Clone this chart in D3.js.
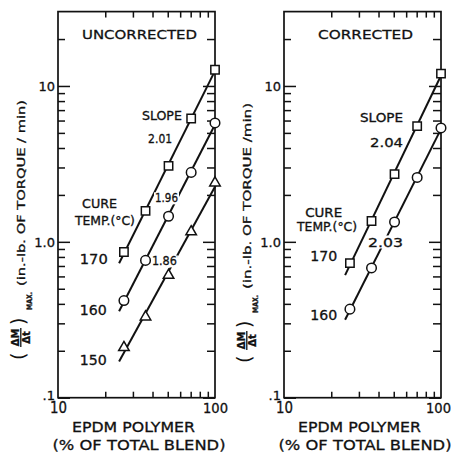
<!DOCTYPE html>
<html>
<head>
<meta charset="utf-8">
<script src="https://cdn.jsdelivr.net/npm/d3@7"></script>
<style>
  body { margin: 0; background: #fff; }
  svg text { font-family: "DejaVu Sans", sans-serif; fill: #111; stroke: #111; stroke-width: 0.3; }
</style>
</head>
<body>
<div id="chart"></div>
<script>
(function() {
  // EPDM polymer, % of total blend (x)
  var blendPct = [26.3, 36.1, 50.6, 70.5, 100];

  // (dM/dt) max, in.-lb. of torque / min
  var uncorrected170 = [0.86, 1.58, 3.07, 6.18, 12.7];
  var uncorrected160 = [0.42, 0.76, 1.46, 2.79, 5.79];
  var uncorrected150 = [0.21, 0.33, 0.61, 1.16, 2.39];
  var corrected170 = [0.73, 1.36, 2.72, 5.52, 12.0];
  var corrected160 = [0.37, 0.68, 1.34, 2.59, 5.38];

  var uncorrectedSlopes = ["2.01", "1.96", "1.86"];
  var correctedSlopes = ["2.04", "2.03"];
  var cureTemps = ["170", "160", "150"];

  var yTickValues = [0.1, 1, 10];
  var yTickLabels = [".1", "1.0", "10"];
  var xTickValues = [10, 100];
  var xTickLabels = ["10", "100"];

  var W = 453, H = 453;
  var svg = d3.select("#chart").append("svg")
    .attr("width", W)
    .attr("height", H);

  var yScale = d3.scaleLog().domain([0.1, 30]).range([397.7, 11.6]);
  var panelW = 157;
  var fitRange = [24.5, 102];

  // log-log least squares fit
  function fit(xs, ys) {
    var lx = xs.map(Math.log10), ly = ys.map(Math.log10);
    var mx = d3.mean(lx), my = d3.mean(ly);
    var sxy = d3.sum(lx, function(d, i) { return (d - mx) * (ly[i] - my); });
    var sxx = d3.sum(lx, function(d) { return (d - mx) * (d - mx); });
    var b = sxy / sxx;
    return function(x) { return Math.pow(10, my + b * (Math.log10(x) - mx)); };
  }

  var panels = [
    {
      left: 58, title: "UNCORRECTED", titleLen: 115, titleX: 139.5, axisText: "(in.-lb. OF TORQUE / min)", labelShift: 0,
      series: [
        { values: uncorrected170, symbol: d3.symbolSquare, size: 70 },
        { values: uncorrected160, symbol: d3.symbolCircle, size: 72 },
        { values: uncorrected150, symbol: d3.symbolTriangle, size: 48 }
      ],
      notes: [
        { text: "SLOPE", x: 45.9, y: 6.39, size: 11.5, len: 40 },
        { text: uncorrectedSlopes[0], x: 44.7, y: 4.62, size: 12, len: 24 },
        { text: uncorrectedSlopes[1], x: 49.1, y: 1.91, size: 12, len: 23, knock: true },
        { text: uncorrectedSlopes[2], x: 47.6, y: 0.752, size: 12, len: 25, knock: true },
        { text: "CURE", x: 18.4, y: 1.74, size: 11.5, len: 35 },
        { text: "TEMP.(°C)", x: 19.9, y: 1.36, size: 11.5, len: 60 },
        { text: cureTemps[0], x: 16.9, y: 0.775, size: 14, len: 28 },
        { text: cureTemps[1], x: 16.8, y: 0.365, size: 14, len: 27 },
        { text: cureTemps[2], x: 16.8, y: 0.175, size: 14, len: 27 }
      ]
    },
    {
      left: 284, title: "CORRECTED", titleLen: 95, titleX: 365.5, axisText: "(in.-lb. OF TORQUE /min)", labelShift: 3,
      series: [
        { values: corrected170, symbol: d3.symbolSquare, size: 70 },
        { values: corrected160, symbol: d3.symbolCircle, size: 72 }
      ],
      notes: [
        { text: "SLOPE", x: 41.8, y: 6.21, size: 11.5, len: 43 },
        { text: correctedSlopes[0], x: 45.0, y: 4.36, size: 13, len: 33 },
        { text: correctedSlopes[1], x: 44.3, y: 1.0, size: 13, len: 35, knock: true },
        { text: "CURE", x: 17.9, y: 1.53, size: 11.5, len: 37 },
        { text: "TEMP.(°C)", x: 18.8, y: 1.24, size: 11.5, len: 60 },
        { text: cureTemps[0], x: 17.9, y: 0.81, size: 14, len: 27 },
        { text: cureTemps[1], x: 17.9, y: 0.339, size: 14, len: 27 }
      ]
    }
  ];

  panels.forEach(function(p) {
    var xScale = d3.scaleLog().domain([10, 100]).range([p.left, p.left + panelW]);
    var g = svg.append("g");
    var y0 = yScale.range()[0], y1 = yScale.range()[1];

    // frame
    g.append("rect")
      .attr("x", p.left).attr("y", y1)
      .attr("width", panelW).attr("height", y0 - y1)
      .attr("fill", "none").attr("stroke", "#111").attr("stroke-width", 1.7);

    var yMinor = [0.2, 0.3, 0.4, 0.5, 0.6, 0.7, 0.8, 0.9, 2, 3, 4, 5, 6, 7, 8, 9, 20];
    var xMinor = [20, 30, 40, 50, 60, 70, 80, 90];

    function styleAxis(sel) {
      sel.select(".domain").remove();
      sel.selectAll("line").attr("stroke", "#111").attr("stroke-width", 1.5);
      sel.selectAll("text").attr("font-family", null).attr("fill", "#111");
    }

    // left axis, majors with labels
    var yAx = g.append("g")
      .attr("class", "axis y-axis")
      .attr("transform", "translate(" + p.left + ",0)")
      .call(d3.axisLeft(yScale).tickValues(yTickValues).tickSize(-12).tickPadding(3)
        .tickFormat(function(d, i) { return yTickLabels[i]; }))
      .call(styleAxis)
      .attr("font-size", 13);
    yAx.selectAll("text").attr("dy", function(d) { return d === 0.1 ? "0.1em" : "0.32em"; });
    g.append("g")
      .attr("transform", "translate(" + p.left + ",0)")
      .call(d3.axisLeft(yScale).tickValues(yMinor).tickSize(-7).tickFormat(""))
      .call(styleAxis);

    // right axis
    g.append("g")
      .attr("transform", "translate(" + (p.left + panelW) + ",0)")
      .call(d3.axisRight(yScale).tickValues(yTickValues).tickSize(-12).tickFormat(""))
      .call(styleAxis);
    g.append("g")
      .attr("transform", "translate(" + (p.left + panelW) + ",0)")
      .call(d3.axisRight(yScale).tickValues(yMinor).tickSize(-8).tickFormat(""))
      .call(styleAxis);

    // bottom axis
    var xAx = g.append("g")
      .attr("class", "axis x-axis")
      .attr("transform", "translate(0," + y0 + ")")
      .call(d3.axisBottom(xScale).tickValues(xTickValues).tickSize(0).tickPadding(5)
        .tickFormat(function(d, i) { return xTickLabels[i]; }))
      .call(styleAxis)
      .attr("font-size", 15);
    xAx.selectAll("text")
      .attr("font-size", function(d) { return d === 100 ? 14 : 15; })
      .attr("textLength", function(d) { return d === 100 ? 25 : 17; })
      .attr("lengthAdjust", "spacingAndGlyphs")
      .attr("dx", function(d) { return d === 100 && p.left > 200 ? -3 : 0; });
    g.append("g")
      .attr("transform", "translate(0," + y0 + ")")
      .call(d3.axisBottom(xScale).tickValues(xMinor).tickSize(-6).tickFormat(""))
      .call(styleAxis);

    // top axis
    g.append("g")
      .attr("transform", "translate(0," + y1 + ")")
      .call(d3.axisTop(xScale).tickValues(xMinor).tickSize(-6).tickFormat(""))
      .call(styleAxis);

    // fit lines
    var line = d3.line()
      .x(function(d) { return xScale(d[0]); })
      .y(function(d) { return yScale(d[1]); });

    p.series.forEach(function(s) {
      var f = fit(blendPct, s.values);
      g.append("path")
        .datum(fitRange.map(function(x) { return [x, f(x)]; }))
        .attr("d", line)
        .attr("fill", "none")
        .attr("stroke", "#111")
        .attr("stroke-width", 2);
    });

    // labels (knockout ones cut the lines)
    p.notes.forEach(function(n) {
      var t = g.append("text")
        .attr("x", xScale(n.x))
        .attr("y", yScale(n.y))
        .attr("dy", "0.36em")
        .attr("text-anchor", "middle")
        .attr("font-size", n.size)
        .attr("textLength", n.len)
        .attr("lengthAdjust", "spacingAndGlyphs")
        .text(n.text);
      if (n.knock) {
        var bb = t.node().getBBox();
        g.insert("rect", function() { return t.node(); })
          .attr("x", bb.x - 1).attr("y", bb.y + 1)
          .attr("width", bb.width + 2).attr("height", bb.height - 2)
          .attr("fill", "#fff");
      }
    });

    // markers
    p.series.forEach(function(s) {
      g.selectAll(null)
        .data(s.values)
        .enter().append("path")
        .attr("transform", function(d, i) {
          return "translate(" + xScale(blendPct[i]) + "," + yScale(d) + ")";
        })
        .attr("d", d3.symbol().type(s.symbol).size(s.size))
        .attr("fill", "#fff")
        .attr("stroke", "#111")
        .attr("stroke-width", 1.5);
    });

    // title
    g.append("text")
      .attr("x", p.titleX).attr("y", 34).attr("dy", "0.36em")
      .attr("text-anchor", "middle")
      .attr("font-size", 13)
      .attr("textLength", p.titleLen)
      .attr("lengthAdjust", "spacingAndGlyphs")
      .text(p.title);

    // x axis title
    g.append("text")
      .attr("x", p.left + 75.5).attr("y", 427).attr("dy", "0.36em")
      .attr("text-anchor", "middle")
      .attr("font-size", 14)
      .attr("textLength", 123)
      .attr("lengthAdjust", "spacingAndGlyphs")
      .text("EPDM  POLYMER");
    g.append("text")
      .attr("x", p.left + 81).attr("y", 445).attr("dy", "0.36em")
      .attr("text-anchor", "middle")
      .attr("font-size", 14.5)
      .attr("textLength", 173)
      .attr("lengthAdjust", "spacingAndGlyphs")
      .text("(% OF TOTAL BLEND)");

    // y axis title, rotated
    var ya = g.append("g")
      .attr("transform", "translate(" + (p.left - 38) + "," + (360 + p.labelShift) + ") rotate(-90)");
    ya.append("text").attr("x", 0).attr("y", 4.5).attr("font-size", 19).style("stroke-width", 0).text("(");
    ya.append("text").attr("x", 22.5).attr("y", -1.5).attr("font-size", 10)
      .attr("text-anchor", "middle").attr("font-weight", "bold").text("ΔM");
    ya.append("line").attr("x1", 13).attr("x2", 32).attr("y1", 0.8).attr("y2", 0.8)
      .attr("stroke", "#111").attr("stroke-width", 1.3);
    ya.append("text").attr("x", 22.5).attr("y", 9.8).attr("font-size", 10)
      .attr("text-anchor", "middle").attr("font-weight", "bold").text("Δt");
    ya.append("text").attr("x", 35).attr("y", 4.5).attr("font-size", 19).style("stroke-width", 0).text(")");
    ya.append("text").attr("x", 50).attr("y", 12).attr("font-size", 7.5)
      .attr("font-weight", "bold").attr("textLength", 18).attr("lengthAdjust", "spacingAndGlyphs")
      .text("MAX.");
    ya.append("text").attr("x", 74).attr("y", 5).attr("font-size", 11)
      .attr("textLength", 186).attr("lengthAdjust", "spacingAndGlyphs")
      .text(p.axisText);
  });
})();
</script>
</body>
</html>
